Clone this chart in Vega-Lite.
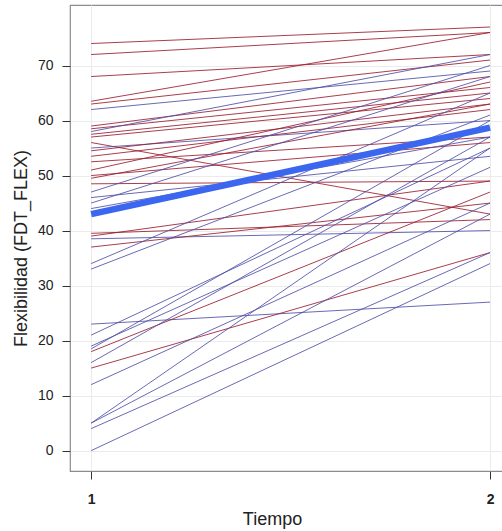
{
  "$schema": "https://vega.github.io/schema/vega-lite/v6.json",
  "width": 436,
  "height": 466,
  "autosize": {"type": "none"},
  "padding": {"left": 70, "top": 5, "right": 0, "bottom": 60},
  "background": "white",
  "config": {
    "font": "Liberation Sans",
    "view": {"stroke": "#8c8c8c", "strokeWidth": 1.2},
    "axis": {
      "grid": true,
      "gridColor": "#ebebeb",
      "gridWidth": 1,
      "domain": false,
      "tickColor": "#333333",
      "tickSize": 8,
      "labelFontSize": 14,
      "labelColor": "#222222",
      "titleFontSize": 18,
      "titleFontWeight": "normal",
      "titleColor": "#222222"
    }
  },
  "datasets": {
    "sujetos": [
      {"id": 1, "tiempo": 1, "valor": 74, "grupo": "A"}, {"id": 1, "tiempo": 2, "valor": 77, "grupo": "A"},
      {"id": 2, "tiempo": 1, "valor": 72, "grupo": "A"}, {"id": 2, "tiempo": 2, "valor": 76, "grupo": "A"},
      {"id": 3, "tiempo": 1, "valor": 68, "grupo": "A"}, {"id": 3, "tiempo": 2, "valor": 72, "grupo": "A"},
      {"id": 4, "tiempo": 1, "valor": 63.5, "grupo": "A"}, {"id": 4, "tiempo": 2, "valor": 76, "grupo": "A"},
      {"id": 5, "tiempo": 1, "valor": 63, "grupo": "A"}, {"id": 5, "tiempo": 2, "valor": 71, "grupo": "A"},
      {"id": 6, "tiempo": 1, "valor": 62, "grupo": "B"}, {"id": 6, "tiempo": 2, "valor": 69, "grupo": "B"},
      {"id": 7, "tiempo": 1, "valor": 59, "grupo": "A"}, {"id": 7, "tiempo": 2, "valor": 68, "grupo": "A"},
      {"id": 8, "tiempo": 1, "valor": 58.5, "grupo": "A"}, {"id": 8, "tiempo": 2, "valor": 66, "grupo": "A"},
      {"id": 9, "tiempo": 1, "valor": 58, "grupo": "B"}, {"id": 9, "tiempo": 2, "valor": 72, "grupo": "B"},
      {"id": 10, "tiempo": 1, "valor": 57.5, "grupo": "A"}, {"id": 10, "tiempo": 2, "valor": 65, "grupo": "A"},
      {"id": 11, "tiempo": 1, "valor": 57, "grupo": "A"}, {"id": 11, "tiempo": 2, "valor": 64, "grupo": "A"},
      {"id": 12, "tiempo": 1, "valor": 56, "grupo": "A"}, {"id": 12, "tiempo": 2, "valor": 43, "grupo": "A"},
      {"id": 13, "tiempo": 1, "valor": 55, "grupo": "B"}, {"id": 13, "tiempo": 2, "valor": 60, "grupo": "B"},
      {"id": 14, "tiempo": 1, "valor": 54.5, "grupo": "A"}, {"id": 14, "tiempo": 2, "valor": 63, "grupo": "A"},
      {"id": 15, "tiempo": 1, "valor": 53.5, "grupo": "A"}, {"id": 15, "tiempo": 2, "valor": 62, "grupo": "A"},
      {"id": 16, "tiempo": 1, "valor": 52.5, "grupo": "A"}, {"id": 16, "tiempo": 2, "valor": 57, "grupo": "A"},
      {"id": 17, "tiempo": 1, "valor": 51, "grupo": "A"}, {"id": 17, "tiempo": 2, "valor": 67, "grupo": "A"},
      {"id": 18, "tiempo": 1, "valor": 50, "grupo": "A"}, {"id": 18, "tiempo": 2, "valor": 56, "grupo": "A"},
      {"id": 19, "tiempo": 1, "valor": 49.5, "grupo": "A"}, {"id": 19, "tiempo": 2, "valor": 63, "grupo": "A"},
      {"id": 20, "tiempo": 1, "valor": 48.5, "grupo": "A"}, {"id": 20, "tiempo": 2, "valor": 49, "grupo": "A"},
      {"id": 21, "tiempo": 1, "valor": 47, "grupo": "B"}, {"id": 21, "tiempo": 2, "valor": 70, "grupo": "B"},
      {"id": 22, "tiempo": 1, "valor": 46, "grupo": "B"}, {"id": 22, "tiempo": 2, "valor": 53.5, "grupo": "B"},
      {"id": 23, "tiempo": 1, "valor": 45, "grupo": "B"}, {"id": 23, "tiempo": 2, "valor": 68, "grupo": "B"},
      {"id": 24, "tiempo": 1, "valor": 44, "grupo": "B"}, {"id": 24, "tiempo": 2, "valor": 57, "grupo": "B"},
      {"id": 25, "tiempo": 1, "valor": 39.5, "grupo": "A"}, {"id": 25, "tiempo": 2, "valor": 42, "grupo": "A"},
      {"id": 26, "tiempo": 1, "valor": 39, "grupo": "A"}, {"id": 26, "tiempo": 2, "valor": 49, "grupo": "A"},
      {"id": 27, "tiempo": 1, "valor": 38.5, "grupo": "B"}, {"id": 27, "tiempo": 2, "valor": 40, "grupo": "B"},
      {"id": 28, "tiempo": 1, "valor": 37, "grupo": "A"}, {"id": 28, "tiempo": 2, "valor": 45, "grupo": "A"},
      {"id": 29, "tiempo": 1, "valor": 34, "grupo": "B"}, {"id": 29, "tiempo": 2, "valor": 65, "grupo": "B"},
      {"id": 30, "tiempo": 1, "valor": 33, "grupo": "B"}, {"id": 30, "tiempo": 2, "valor": 61, "grupo": "B"},
      {"id": 31, "tiempo": 1, "valor": 23, "grupo": "B"}, {"id": 31, "tiempo": 2, "valor": 27, "grupo": "B"},
      {"id": 32, "tiempo": 1, "valor": 21, "grupo": "B"}, {"id": 32, "tiempo": 2, "valor": 55, "grupo": "B"},
      {"id": 33, "tiempo": 1, "valor": 19, "grupo": "B"}, {"id": 33, "tiempo": 2, "valor": 51.5, "grupo": "B"},
      {"id": 34, "tiempo": 1, "valor": 18.5, "grupo": "B"}, {"id": 34, "tiempo": 2, "valor": 60, "grupo": "B"},
      {"id": 35, "tiempo": 1, "valor": 18, "grupo": "A"}, {"id": 35, "tiempo": 2, "valor": 47, "grupo": "A"},
      {"id": 36, "tiempo": 1, "valor": 16, "grupo": "B"}, {"id": 36, "tiempo": 2, "valor": 57, "grupo": "B"},
      {"id": 37, "tiempo": 1, "valor": 15, "grupo": "A"}, {"id": 37, "tiempo": 2, "valor": 36, "grupo": "A"},
      {"id": 38, "tiempo": 1, "valor": 12, "grupo": "B"}, {"id": 38, "tiempo": 2, "valor": 45, "grupo": "B"},
      {"id": 39, "tiempo": 1, "valor": 5, "grupo": "B"}, {"id": 39, "tiempo": 2, "valor": 55, "grupo": "B"},
      {"id": 40, "tiempo": 1, "valor": 5, "grupo": "B"}, {"id": 40, "tiempo": 2, "valor": 43, "grupo": "B"},
      {"id": 41, "tiempo": 1, "valor": 4, "grupo": "B"}, {"id": 41, "tiempo": 2, "valor": 36, "grupo": "B"},
      {"id": 42, "tiempo": 1, "valor": 0, "grupo": "B"}, {"id": 42, "tiempo": 2, "valor": 34, "grupo": "B"}
    ],
    "media": [
      {"tiempo": 1, "valor": 43},
      {"tiempo": 2, "valor": 58.7}
    ]
  },
  "encoding": {
    "x": {
      "field": "tiempo",
      "type": "quantitative",
      "scale": {"domain": [0.947, 2.04], "nice": false, "zero": false},
      "axis": {
        "values": [1, 2],
        "format": "d",
        "labelPadding": 13,
        "labelFontWeight": "bold",
        "title": "Tiempo",
        "titleX": 202,
        "titleY": 39,
        "titleBaseline": "top"
      }
    },
    "y": {
      "field": "valor",
      "type": "quantitative",
      "scale": {"domain": [-3.7, 81], "nice": false, "zero": false},
      "axis": {
        "values": [0, 10, 20, 30, 40, 50, 60, 70],
        "labelPadding": 9,
        "title": "Flexibilidad (FDT_FLEX)",
        "titleX": -40,
        "titleY": 243
      }
    }
  },
  "layer": [
    {
      "data": {"name": "sujetos"},
      "mark": {"type": "line", "strokeWidth": 1, "opacity": 0.85, "clip": true},
      "encoding": {
        "detail": {"field": "id", "type": "nominal"},
        "color": {
          "field": "grupo",
          "type": "nominal",
          "scale": {"domain": ["A", "B"], "range": ["#9a1c2e", "#4f4fa8"]},
          "legend": null
        }
      }
    },
    {
      "data": {"name": "media"},
      "mark": {"type": "line", "strokeWidth": 6.5, "color": "#3a66f0", "clip": true},
      "encoding": {}
    }
  ]
}
